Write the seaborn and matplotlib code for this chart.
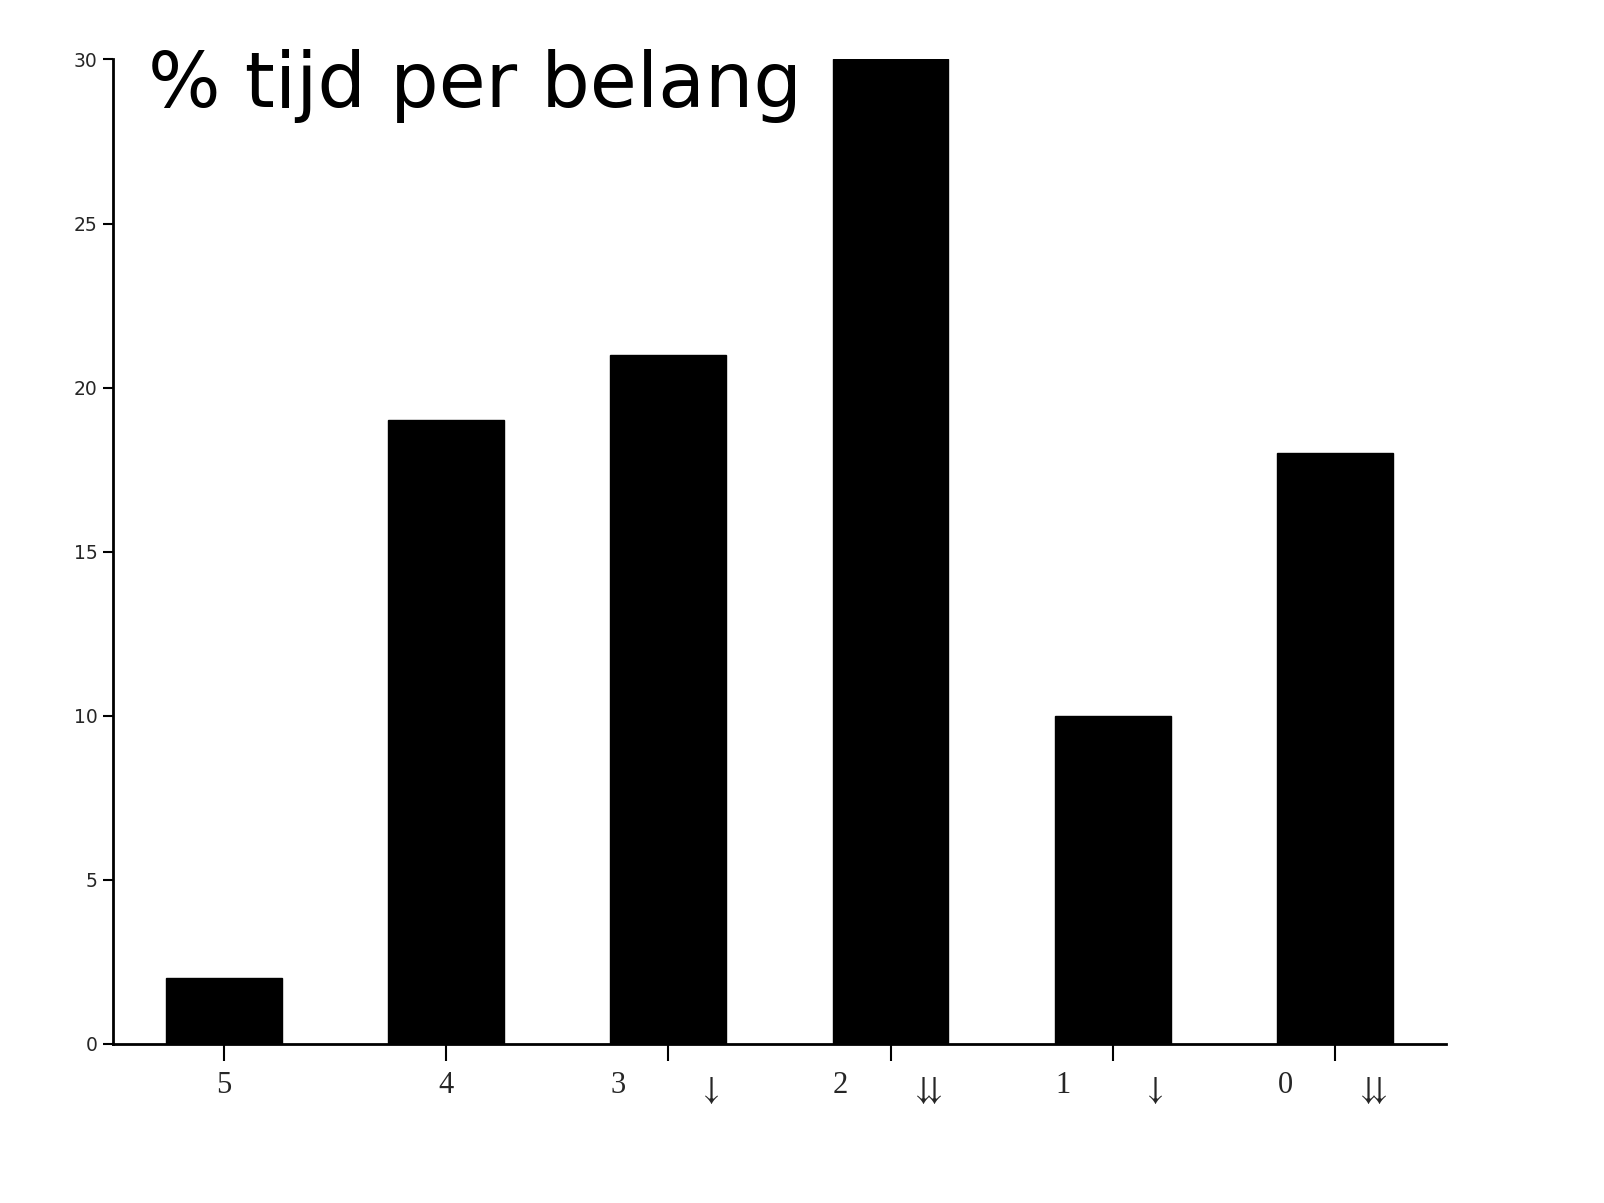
import matplotlib
matplotlib.use("Agg")
import matplotlib.pyplot as plt
import seaborn as sns
import pandas as pd

categories = ["5", "4", "3", "2", "1", "0"]
arrows = ["", "", "\u2193", "\u2193\u2193", "\u2193", "\u2193\u2193"]
values = [2, 19, 21, 30, 10, 18]
y_ticks = [0, 5, 10, 15, 20, 25, 30]

df = pd.DataFrame({"belang": categories, "pct": values})

sns.set_theme(style="ticks")
plt.rcParams["font.family"] = ["DejaVu Sans"]
plt.rcParams["mathtext.fontset"] = "stix"

fig = plt.figure(figsize=(16.04, 12.03), dpi=100)
ax = fig.add_axes([0.0702, 0.1322, 0.8314, 0.8184])

sns.barplot(data=df, x="belang", y="pct", color="black", width=0.52,
            saturation=1, ax=ax, edgecolor="black")

ax.set_xlim(-0.5, 5.5)
ax.set_ylim(0, 30)
ax.set_yticks(y_ticks)
ax.set_yticklabels([str(t) for t in y_ticks], fontsize=13.5)

# tick labels drawn as text so the number and arrows can sit either side of the tick
ax.set_xticks(range(len(categories)))
ax.set_xticklabels([""] * len(categories))
serif = ["Liberation Serif", "DejaVu Serif"]
for i, (c, a) in enumerate(zip(categories, arrows)):
    dx = -36 if a else 0
    ax.annotate(c, xy=(i, 0), xycoords=ax.get_xaxis_transform(),
                xytext=(dx, -30), textcoords="offset points",
                ha="center", va="center", fontsize=22, family=serif)
    if a:
        dxa = 29 if len(a) == 1 else 26
        math = "$" + r"\!\!\!\!".join([r"\downarrow"] * len(a)) + "$"
        ax.annotate(math, xy=(i, 0), xycoords=ax.get_xaxis_transform(),
                    xytext=(dxa, -33), textcoords="offset points",
                    ha="center", va="center", fontsize=24)

ax.tick_params(axis="y", length=7, width=1.5, color="black", pad=4)
ax.tick_params(axis="x", length=12.5, width=1.5, color="black")
ax.set_xlabel("")
ax.set_ylabel("")
for s in ["left", "bottom"]:
    ax.spines[s].set_linewidth(2)
    ax.spines[s].set_color("black")
sns.despine(ax=ax)

fig.text(0.092, 0.911, "% tijd per belang", fontsize=55, color="black",
         ha="left", va="baseline")

fig.savefig("out.png", dpi=100)
